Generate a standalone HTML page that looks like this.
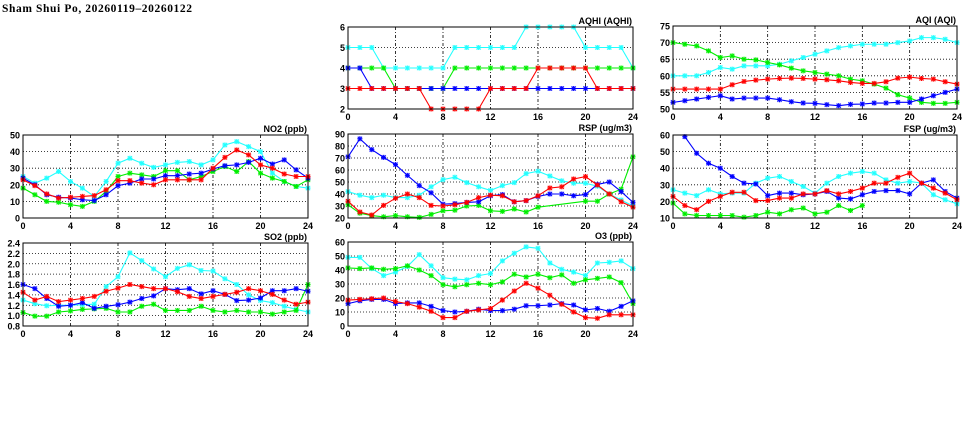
<!DOCTYPE html>
<html><head><meta charset="utf-8"><style>
html,body{margin:0;padding:0;background:#fff;}
svg{display:block;}
text{font-family:"Liberation Sans",sans-serif;font-weight:bold;font-size:9px;fill:#000;}
</style></head><body>
<svg id="chart" width="975" height="447" viewBox="0 0 975 447">
<text x="2" y="12" style="font-family:'Liberation Serif',serif;font-size:11.5px" textLength="190">Sham Shui Po, 20260119–20260122</text>
</svg>
<script>
const hours = [0,1,2,3,4,5,6,7,8,9,10,11,12,13,14,15,16,17,18,19,20,21,22,23,24];
const xTicks = [0,4,8,12,16,20,24];
const seriesColors = ['#22ffff','#00ee00','#0000ff','#ff0000'];
const seriesNames = ['cyan','green','blue','red'];

const aqhiTicks = [2,3,4,5,6];
const aqhiCyan = [5,5,5,4,4,4,4,4,4,5,5,5,5,5,5,6,6,6,6,6,5,5,5,5,4];
const aqhiGreen = [4,4,4,4,3,3,3,3,3,4,4,4,4,4,4,4,4,4,4,4,4,4,4,4,4];
const aqhiBlue = [4,4,3,3,3,3,3,3,3,3,3,3,3,3,3,3,3,3,3,3,3,3,3,3,3];
const aqhiRed = [3,3,3,3,3,3,3,2,2,2,2,2,3,3,3,3,4,4,4,4,4,3,3,3,3];

const aqiTicks = [50,55,60,65,70,75];
const aqiCyan = [60,60,60,61,62.5,62,63,63,63,63.5,64.5,65.5,66.5,67.5,68.5,69,69.5,69.5,69.5,70,70.5,71.5,71.5,71,70];
const aqiGreen = [70,69.5,69,67.5,65.5,66,65,64.8,64,63.3,62.3,61.5,61,60.5,60,59,58.5,57.5,56.3,54.3,53.3,52,51.7,51.7,52];
const aqiBlue = [52,52.5,53,53.5,54,53,53.3,53.3,53.3,52.8,52.2,51.8,51.7,51.3,51,51.4,51.5,51.8,51.8,52,52,53,54,55,56];
const aqiRed = [56,56,56,56,56,57.3,58.3,58.7,59,59.2,59.3,59.2,59,58.8,58.5,58,57.7,57.7,58.2,59.3,59.6,59.2,59,58.2,57.5];

const no2Ticks = [0,10,20,30,40,50];
const no2Cyan = [25,21,24,28,22,18,13,22,33,36,33,30.5,32,33.5,34,32,35,44,46,43,40,27,22,19,18];
const no2Green = [18,14,10,9.5,8,7,10,16,25,27,26,25,28.5,28.5,23,25,28,31,28,34,27,24,22,19,23];
const no2Blue = [24,20,14,12.5,12,11,10.5,14,19.5,21,23.5,23.5,25.5,25.5,26.5,27,29.5,31.5,32,33.5,36,32.5,35,29,24];
const no2Red = [23,19.5,14.5,12,12.5,13,13.5,17,22.5,22.5,21,20,23,23,23,23,30,36.5,41,38,32,30,26.5,25,25];

const rspTicks = [20,30,40,50,60,70,80,90];
const rspCyan = [42,39,37,39,37,37,39,46,52,54,49.5,46,43,47,49.5,57,59,55,51,49,49,46.5,40,35,30];
const rspGreen = [31,24,22,21,22,21,20.5,23,26,26.5,30,30.5,26,25.5,27.5,25,29,null,null,null,34,34,40,44,71];
const rspBlue = [71,86,77,70.5,64.5,55.5,47,41,31.5,32,33,33.5,38.5,39.5,33.5,34.5,38,40,40,38.5,39.5,48,50,42,33];
const rspRed = [34,25,22.5,30.5,36.5,40,37,30.5,30,31,33,37,39,38.5,33.5,34.5,38.5,45,46,52.5,54.5,47.5,40,33.5,29];

const fspTicks = [10,20,30,40,50,60];
const fspCyan = [27,25,23.5,27,24.5,25,25,31,34,35,32,29,25,31,35,37,38,37,33,31,32,31,24,21,18.5];
const fspGreen = [19,12.5,11.5,11.5,11.5,11.5,10.5,11.5,13.5,12.5,15,16,12.5,13.5,17.5,14.5,17.5,null,null,null,null,null,null,null,null];
const fspBlue = [null,59,49,43,40,35,31,30.5,23.5,25,25,24,24.5,26,22,21.5,24,26,26.5,26.5,24.5,31,33,26,22];
const fspRed = [23,17.5,15,20,23,25.5,25.5,20.5,20.5,22,22,24.5,24.5,26.5,24.5,26,28,31,31,34.5,37,31,28,25,21];

const so2Ticks = [0.8,1.0,1.2,1.4,1.6,1.8,2.0,2.2,2.4];
const so2Cyan = [1.3,1.23,1.19,1.2,1.2,1.21,1.22,1.56,1.75,2.21,2.06,1.9,1.75,1.91,1.98,1.87,1.86,1.71,1.6,1.4,1.29,1.25,1.18,1.12,1.07];
const so2Green = [1.06,0.99,0.99,1.07,1.09,1.12,1.13,1.14,1.07,1.07,1.18,1.22,1.1,1.1,1.1,1.18,1.1,1.07,1.1,1.07,1.07,1.03,1.07,1.1,1.6];
const so2Blue = [1.6,1.52,1.33,1.18,1.2,1.25,1.14,1.18,1.21,1.26,1.33,1.38,1.52,1.5,1.52,1.42,1.48,1.41,1.29,1.3,1.34,1.48,1.48,1.52,1.47];
const so2Red = [1.45,1.3,1.37,1.27,1.3,1.33,1.37,1.47,1.53,1.6,1.56,1.52,1.52,1.46,1.37,1.33,1.37,1.41,1.45,1.52,1.48,1.41,1.3,1.22,1.26];

const o3Ticks = [0,10,20,30,40,50,60];
const o3Cyan = [49,49,41,36,38.5,42.5,51,43,34.5,33.5,33,36,37.5,46.5,52,56.5,55.5,45,40.5,38.5,36,45,45.5,46.5,41];
const o3Green = [41.5,41,41.5,40.5,41,43,40,36,29.5,28,29.5,30.5,29.5,31.5,37,35,37,34.5,36.5,30.5,33,34,35,31,16];
const o3Blue = [16,18,19,19,16,16.5,16.5,14,11,10,10.5,12,11,11,12,14.5,14.5,15,16,15,11.5,12.5,10.5,14,18];
const o3Red = [18.5,19,19.5,20,17.5,16,13.5,10.5,6,6,10.5,11.5,12.5,18.5,25,30.5,27,22,15.5,10,6,5.5,8,8,8];

const NS='http://www.w3.org/2000/svg';
const svg=document.getElementById('chart');
function mk(tag,attrs,parent){const e=document.createElementNS(NS,tag);for(const k in attrs)e.setAttribute(k,attrs[k]);(parent||svg).appendChild(e);return e;}

function panel(name,title,box,yTicks,series,decimals){
  const g=mk('g',{});
  
  
  const yMin=yTicks[0],yMax=yTicks[yTicks.length-1];
  const xs=v=>box.x0+(v-0)/(24-0)*(box.x1-box.x0);
  const ys=v=>box.y1-(v-yMin)/(yMax-yMin)*(box.y1-box.y0);
  yTicks.forEach((t,i)=>{
    if(i>0&&i<yTicks.length-1){const l=mk('line',{x1:box.x0,x2:box.x1,y1:ys(t),y2:ys(t),stroke:'#000','stroke-width':0.8,'stroke-dasharray':'1,2'},g);
      }
    const tx=mk('text',{x:box.x0-3,y:ys(t)+3.5,'text-anchor':'end'},g);
    tx.textContent=decimals?t.toFixed(decimals):t;
    
    
  });
  xTicks.forEach((t,i)=>{
    if(i>0&&i<xTicks.length-1){const l=mk('line',{x1:xs(t),x2:xs(t),y1:box.y0,y2:box.y1,stroke:'#000','stroke-width':0.8,'stroke-dasharray':'3,2,1,2'},g);
      }
    const tx=mk('text',{x:xs(t),y:box.y1+11,'text-anchor':'middle'},g);
    tx.textContent=t;
    
    
  });
  series.forEach((vals,si)=>{
    const c=seriesColors[si];
    const pts=[];vals.forEach((v,i)=>{if(v!==null)pts.push([xs(hours[i]),ys(v)]);});
    const pl=mk('polyline',{points:pts.map(p=>p.join(',')).join(' '),fill:'none',stroke:c,'stroke-width':1.1},g);
    
    
    pts.forEach(p=>{
      const m=mk('g',{transform:'translate('+p[0]+','+p[1]+')'},g);
      
      
      mk('rect',{x:-2.5,y:-2.5,width:5,height:5,fill:c,opacity:0.25},m);
      mk('path',{d:'M-2.5,0H2.5M0,-2.5V2.5M-2,-2L2,2M-2,2L2,-2',stroke:c,'stroke-width':1},m);
    });
  });
  const fr=mk('rect',{x:box.x0,y:box.y0,width:box.x1-box.x0,height:box.y1-box.y0,fill:'none',stroke:'#000','stroke-width':1},g);
  
  
  const tt=mk('text',{x:box.x1-1,y:box.y0-3,'text-anchor':'end','font-size':'8.5px'},g);
  tt.textContent=title;
  
  
}
panel('aqhi','AQHI (AQHI)',{x0:348,x1:633,y0:27,y1:109},aqhiTicks,[aqhiCyan,aqhiGreen,aqhiBlue,aqhiRed],0);
panel('aqi','AQI (AQI)',{x0:673,x1:957,y0:26,y1:109},aqiTicks,[aqiCyan,aqiGreen,aqiBlue,aqiRed],0);
panel('no2','NO2 (ppb)',{x0:23,x1:308,y0:135,y1:218},no2Ticks,[no2Cyan,no2Green,no2Blue,no2Red],0);
panel('rsp','RSP (ug/m3)',{x0:348,x1:633,y0:134,y1:218},rspTicks,[rspCyan,rspGreen,rspBlue,rspRed],0);
panel('fsp','FSP (ug/m3)',{x0:673,x1:957,y0:135,y1:218},fspTicks,[fspCyan,fspGreen,fspBlue,fspRed],0);
panel('so2','SO2 (ppb)',{x0:23,x1:308,y0:243,y1:326},so2Ticks,[so2Cyan,so2Green,so2Blue,so2Red],1);
panel('o3','O3 (ppb)',{x0:348,x1:633,y0:242,y1:326},o3Ticks,[o3Cyan,o3Green,o3Blue,o3Red],0);
</script>
</body></html>
